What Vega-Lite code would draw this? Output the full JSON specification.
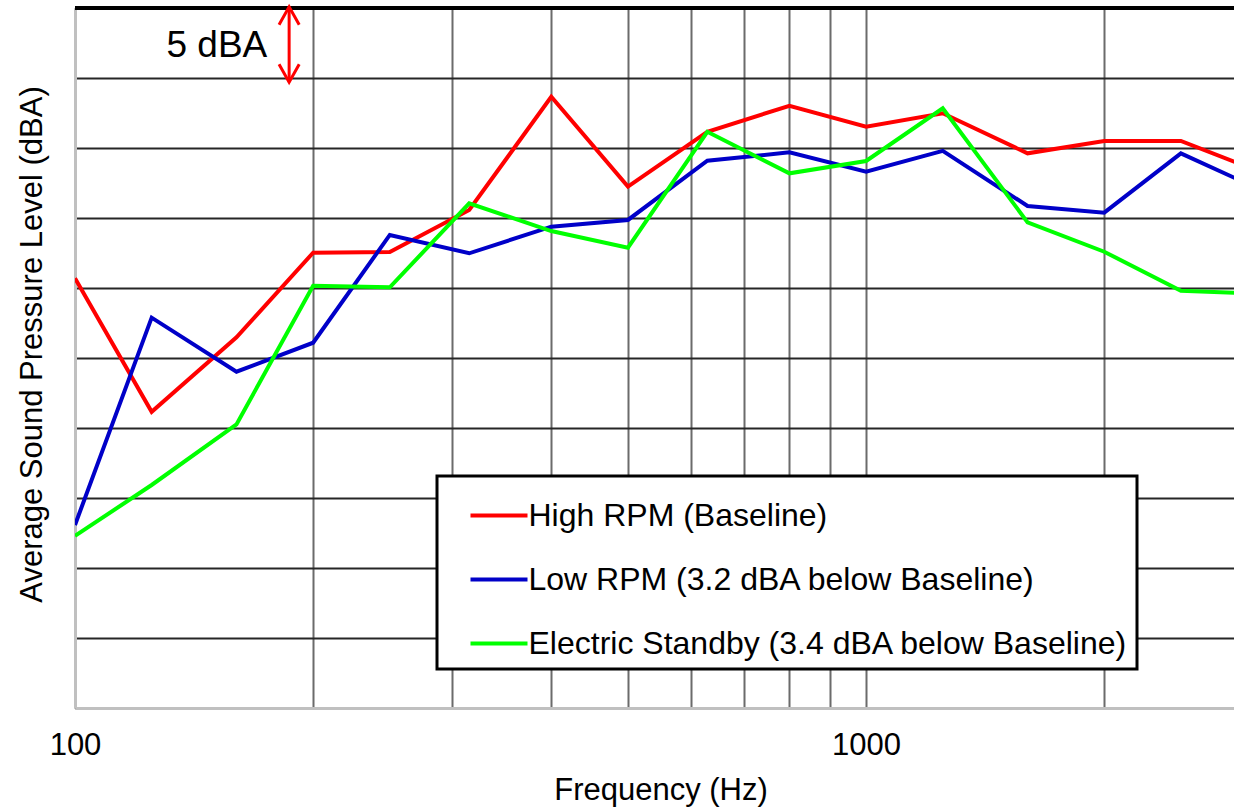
{
  "$schema": "https://vega.github.io/schema/vega-lite/v6.json",
  "width": 1159,
  "height": 700,
  "autosize": {"type": "none"},
  "padding": {"left": 75, "top": 8, "right": 0, "bottom": 99},
  "background": "white",
  "config": {
    "view": {"stroke": null},
    "font": "Liberation Sans",
    "text": {"font": "Liberation Sans"},
    "legend": {"strokeWidth": 3}
  },
  "datasets": {
    "spl": [
      {"freq": 100, "level": 80.69, "series": "High RPM (Baseline)"},
      {"freq": 125, "level": 71.16, "series": "High RPM (Baseline)"},
      {"freq": 160, "level": 76.48, "series": "High RPM (Baseline)"},
      {"freq": 200, "level": 82.52, "series": "High RPM (Baseline)"},
      {"freq": 250, "level": 82.57, "series": "High RPM (Baseline)"},
      {"freq": 315, "level": 85.57, "series": "High RPM (Baseline)"},
      {"freq": 400, "level": 93.66, "series": "High RPM (Baseline)"},
      {"freq": 500, "level": 87.24, "series": "High RPM (Baseline)"},
      {"freq": 630, "level": 91.16, "series": "High RPM (Baseline)"},
      {"freq": 800, "level": 93.02, "series": "High RPM (Baseline)"},
      {"freq": 1000, "level": 91.52, "series": "High RPM (Baseline)"},
      {"freq": 1250, "level": 92.48, "series": "High RPM (Baseline)"},
      {"freq": 1600, "level": 89.62, "series": "High RPM (Baseline)"},
      {"freq": 2000, "level": 90.5, "series": "High RPM (Baseline)"},
      {"freq": 2500, "level": 90.5, "series": "High RPM (Baseline)"},
      {"freq": 3150, "level": 88.3, "series": "High RPM (Baseline)"},
      {"freq": 100, "level": 63.07, "series": "Low RPM (3.2 dBA below Baseline)"},
      {"freq": 125, "level": 77.88, "series": "Low RPM (3.2 dBA below Baseline)"},
      {"freq": 160, "level": 74.02, "series": "Low RPM (3.2 dBA below Baseline)"},
      {"freq": 200, "level": 76.09, "series": "Low RPM (3.2 dBA below Baseline)"},
      {"freq": 250, "level": 83.79, "series": "Low RPM (3.2 dBA below Baseline)"},
      {"freq": 315, "level": 82.48, "series": "Low RPM (3.2 dBA below Baseline)"},
      {"freq": 400, "level": 84.38, "series": "Low RPM (3.2 dBA below Baseline)"},
      {"freq": 500, "level": 84.86, "series": "Low RPM (3.2 dBA below Baseline)"},
      {"freq": 630, "level": 89.09, "series": "Low RPM (3.2 dBA below Baseline)"},
      {"freq": 800, "level": 89.69, "series": "Low RPM (3.2 dBA below Baseline)"},
      {"freq": 1000, "level": 88.31, "series": "Low RPM (3.2 dBA below Baseline)"},
      {"freq": 1250, "level": 89.79, "series": "Low RPM (3.2 dBA below Baseline)"},
      {"freq": 1600, "level": 85.86, "series": "Low RPM (3.2 dBA below Baseline)"},
      {"freq": 2000, "level": 85.38, "series": "Low RPM (3.2 dBA below Baseline)"},
      {"freq": 2500, "level": 89.62, "series": "Low RPM (3.2 dBA below Baseline)"},
      {"freq": 3150, "level": 87.02, "series": "Low RPM (3.2 dBA below Baseline)"},
      {"freq": 100, "level": 62.29, "series": "Electric Standby (3.4 dBA below Baseline)"},
      {"freq": 125, "level": 65.93, "series": "Electric Standby (3.4 dBA below Baseline)"},
      {"freq": 160, "level": 70.26, "series": "Electric Standby (3.4 dBA below Baseline)"},
      {"freq": 200, "level": 80.16, "series": "Electric Standby (3.4 dBA below Baseline)"},
      {"freq": 250, "level": 80.05, "series": "Electric Standby (3.4 dBA below Baseline)"},
      {"freq": 315, "level": 86.05, "series": "Electric Standby (3.4 dBA below Baseline)"},
      {"freq": 400, "level": 84.07, "series": "Electric Standby (3.4 dBA below Baseline)"},
      {"freq": 500, "level": 82.88, "series": "Electric Standby (3.4 dBA below Baseline)"},
      {"freq": 630, "level": 91.16, "series": "Electric Standby (3.4 dBA below Baseline)"},
      {"freq": 800, "level": 88.19, "series": "Electric Standby (3.4 dBA below Baseline)"},
      {"freq": 1000, "level": 89.07, "series": "Electric Standby (3.4 dBA below Baseline)"},
      {"freq": 1250, "level": 92.84, "series": "Electric Standby (3.4 dBA below Baseline)"},
      {"freq": 1600, "level": 84.69, "series": "Electric Standby (3.4 dBA below Baseline)"},
      {"freq": 2000, "level": 82.59, "series": "Electric Standby (3.4 dBA below Baseline)"},
      {"freq": 2500, "level": 79.81, "series": "Electric Standby (3.4 dBA below Baseline)"},
      {"freq": 3150, "level": 79.59, "series": "Electric Standby (3.4 dBA below Baseline)"}
    ]
  },
  "layer": [
    {
      "data": {"name": "spl"},
      "mark": {"type": "line", "strokeWidth": 4, "clip": true, "strokeJoin": "miter"},
      "encoding": {
        "x": {
          "field": "freq",
          "type": "quantitative",
          "scale": {"type": "log", "domain": [100, 2918], "nice": false},
          "axis": {
            "values": [100, 200, 300, 400, 500, 600, 700, 800, 900, 1000, 2000],
            "labelExpr": "datum.value == 100 || datum.value == 1000 ? format(datum.value, 'd') : ''",
            "labelOverlap": false,
            "labelFlush": false,
            "labelBound": false,
            "labelFontSize": 31,
            "labelFont": "Liberation Sans",
            "labelColor": "#000000",
            "labelBaseline": "alphabetic",
            "labelPadding": 46,
            "ticks": false,
            "tickSize": 0,
            "domainColor": "#c0c0c0",
            "domainWidth": 3,
            "grid": true,
            "gridColor": "#6b6b6b",
            "gridWidth": 2,
            "title": "Frequency (Hz)",
            "titleFontSize": 31,
            "titleFont": "Liberation Sans",
            "titleFontWeight": "normal",
            "titleColor": "#000000",
            "titleX": 585.5,
            "titleY": 91,
            "titleAlign": "center",
            "titleBaseline": "alphabetic"
          }
        },
        "y": {
          "field": "level",
          "type": "quantitative",
          "scale": {"domain": [50, 100], "nice": false, "zero": false},
          "axis": {
            "values": [50, 55, 60, 65, 70, 75, 80, 85, 90, 95, 100],
            "labels": false,
            "ticks": false,
            "tickSize": 0,
            "domainColor": "#c0c0c0",
            "domainWidth": 3,
            "grid": true,
            "gridColor": "#262626",
            "gridWidth": 2,
            "title": "Average Sound Pressure Level (dBA)",
            "titleFontSize": 31,
            "titleFont": "Liberation Sans",
            "titleFontWeight": "normal",
            "titleColor": "#000000",
            "titleAngle": -90,
            "titleX": -33.5,
            "titleY": 336,
            "titleAlign": "center",
            "titleBaseline": "alphabetic"
          }
        },
        "color": {
          "field": "series",
          "type": "nominal",
          "scale": {
            "domain": ["High RPM (Baseline)", "Low RPM (3.2 dBA below Baseline)", "Electric Standby (3.4 dBA below Baseline)"],
            "range": ["#ff0000", "#0000c8", "#00ff00"]
          },
          "legend": {
            "title": null,
            "orient": "none",
            "legendX": 362,
            "legendY": 468,
            "direction": "vertical",
            "symbolType": "stroke",
            "symbolSize": 3249,
            "symbolStrokeWidth": 4,
            "symbolOffset": 22.5,
            "labelFontSize": 32,
            "labelFont": "Liberation Sans",
            "labelColor": "#000000",
            "labelOffset": -1,
            "labelLimit": 0,
            "rowPadding": 17,
            "padding": 9,
            "strokeColor": "#000000",
            "fillColor": "#ffffff"
          }
        }
      }
    },
    {
      "data": {"values": [{}]},
      "mark": {"type": "rule", "color": "#000000", "strokeWidth": 4},
      "encoding": {"y": {"datum": 100, "type": "quantitative"}}
    },
    {
      "data": {"values": [{}]},
      "mark": {"type": "rule", "color": "#ff0000", "strokeWidth": 3},
      "encoding": {
        "x": {"datum": 186.5, "type": "quantitative"},
        "y": {"datum": 100.09, "type": "quantitative"},
        "y2": {"datum": 94.7}
      }
    },
    {
      "data": {"values": [{}]},
      "mark": {"type": "point", "shape": "M-0.56,1L0,0L0.56,1", "size": 1296, "filled": false, "color": "#ff0000", "strokeWidth": 3, "opacity": 1},
      "encoding": {
        "x": {"datum": 186.5, "type": "quantitative"},
        "y": {"datum": 100.09, "type": "quantitative"}
      }
    },
    {
      "data": {"values": [{}]},
      "mark": {"type": "point", "shape": "M-0.56,-1L0,0L0.56,-1", "size": 1296, "filled": false, "color": "#ff0000", "strokeWidth": 3, "opacity": 1},
      "encoding": {
        "x": {"datum": 186.5, "type": "quantitative"},
        "y": {"datum": 94.7, "type": "quantitative"}
      }
    },
    {
      "data": {"values": [{}]},
      "mark": {"type": "text", "text": "5 dBA", "align": "right", "baseline": "alphabetic", "fontSize": 37, "font": "Liberation Sans", "color": "#000000"},
      "encoding": {
        "x": {"datum": 175, "type": "quantitative"},
        "y": {"datum": 96.52, "type": "quantitative"}
      }
    }
  ]
}
